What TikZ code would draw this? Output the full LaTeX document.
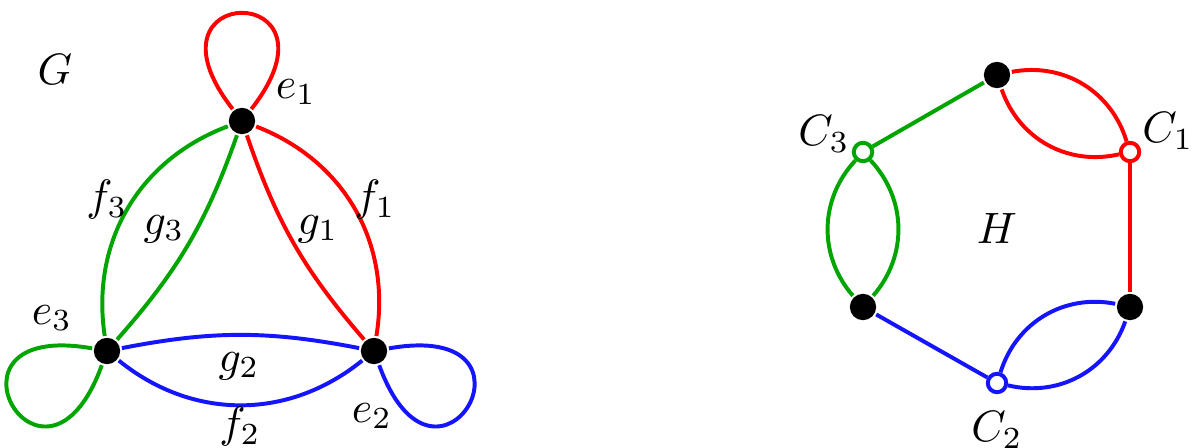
\documentclass[tikz,border=0pt]{standalone}
\definecolor{gverde}{RGB}{0,165,0}
\definecolor{gblau}{RGB}{20,20,255}

\begin{document}
\begin{tikzpicture}[x=0.2277pt,y=0.2277pt,line width=0.9pt,
  vtx/.style={circle,fill=black,inner sep=0pt,minimum size=6pt},
  ovtx/.style={circle,draw=#1,fill=white,inner sep=0pt,minimum size=4.2pt}]
  \useasboundingbox (0,0) rectangle (1192,448);
  % graph G
  \node[vtx] (a1) at (242,327) {};
  \node[vtx] (a2) at (374,97) {};
  \node[vtx] (a3) at (107,97) {};
  \draw[red] (a1) .. controls +(128:178) and +(52:178) .. (a1);
  \draw[gblau] (a2) .. controls +(10:185) and +(-70:185) .. (a2);
  \draw[gverde] (a3) .. controls +(-110:185) and +(170:185) .. (a3);
  \draw[red] (a1) to[bend left=39] (a2);
  \draw[red] (a1) to[bend right=11] (a2);
  \draw[gblau] (a3) to[bend right=39] (a2);
  \draw[gblau] (a3) to[bend left=11] (a2);
  \draw[gverde] (a1) to[bend right=39] (a3);
  \draw[gverde] (a1) to[bend left=11] (a3);
  \node (lG) at (55,378) {$G$};
  \node (le1) at (296,356) {$e_1$};
  \node (le2) at (372,32) {$e_2$};
  \node (le3) at (52,130) {$e_3$};
  \node (lf1) at (375,248) {$f_1$};
  \node (lf2) at (240,21) {$f_2$};
  \node (lf3) at (107,248) {$f_3$};
  \node (lg1) at (318,219) {$g_1$};
  \node (lg2) at (239,82) {$g_2$};
  \node (lg3) at (164,219) {$g_3$};
  % graph H
  \node[vtx] (h1) at (997,373) {};
  \node[vtx] (h2) at (1130,141) {};
  \node[vtx] (h3) at (863,141) {};
  \node[ovtx=red] (c1) at (1130,296) {};
  \node[ovtx=gblau] (c2) at (997,65) {};
  \node[ovtx=gverde] (c3) at (863,296) {};
  \draw[red] (h1) to[bend left=42] (c1);
  \draw[red] (h1) to[bend right=42] (c1);
  \draw[red] (c1) -- (h2);
  \draw[gblau] (h2) to[bend left=42] (c2);
  \draw[gblau] (h2) to[bend right=42] (c2);
  \draw[gblau] (c2) -- (h3);
  \draw[gverde] (h3) to[bend left=42] (c3);
  \draw[gverde] (h3) to[bend right=42] (c3);
  \draw[gverde] (c3) -- (h1);
  \node (lH) at (997,219) {$H$};
  \node (lC1) at (1168,317) {$C_1$};
  \node (lC2) at (997,18) {$C_2$};
  \node (lC3) at (824,314) {$C_3$};
\end{tikzpicture}
\end{document}
